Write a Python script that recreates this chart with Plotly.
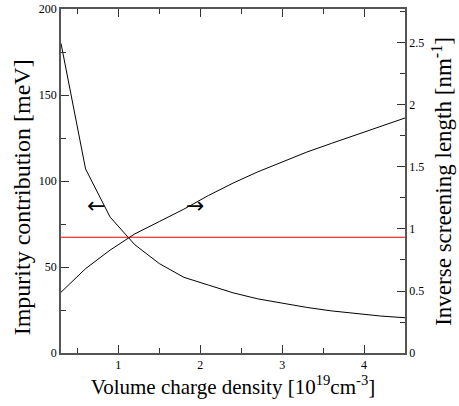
import plotly.graph_objects as go

# Data
density = [0.3, 0.6, 0.9, 1.2, 1.5, 1.8, 2.1, 2.4, 2.7, 3.0, 3.3, 3.6, 3.9, 4.2, 4.5]
impurity_mev = [180, 107, 79, 63, 52, 44, 39.5, 35, 31.5, 29, 26.5, 24.5, 23, 21.5, 20.5]
inverse_screening = [0.49, 0.68, 0.83, 0.96, 1.06, 1.16, 1.27, 1.37, 1.46, 1.54, 1.62, 1.69, 1.76, 1.83, 1.895]
ref_x = [0.3, 4.5]
ref_level = [67.3, 67.3]

FONT = "Liberation Serif"

fig = go.Figure()
fig.add_trace(go.Scatter(x=density, y=impurity_mev, mode="lines",
                         line=dict(color="black", width=1), showlegend=False))
fig.add_trace(go.Scatter(x=ref_x, y=ref_level, mode="lines",
                         line=dict(color="#ff0000", width=1.2), showlegend=False))
fig.add_trace(go.Scatter(x=density, y=inverse_screening, mode="lines", yaxis="y2",
                         line=dict(color="black", width=1), showlegend=False))

fig.add_annotation(x=0.73, y=86, text="←", showarrow=False, xref="x", yref="y",
                   font=dict(family="DejaVu Sans", size=22, color="black"))
fig.add_annotation(x=1.93, y=86, text="→", showarrow=False, xref="x", yref="y",
                   font=dict(family="DejaVu Sans", size=22, color="black"))
# axis titles placed as in the reference
fig.add_annotation(text="Impurity contribution [meV]", xref="paper", yref="paper",
                   x=-0.113, y=0.453, xanchor="center", yanchor="middle",
                   textangle=-90, showarrow=False,
                   font=dict(family=FONT, size=24, color="black"))
fig.add_annotation(text="Inverse screening length [nm<sup>-1</sup>]", xref="paper", yref="paper",
                   x=1.107, y=0.5, xanchor="center", yanchor="middle",
                   textangle=-90, showarrow=False,
                   font=dict(family=FONT, size=23, color="black"))

axis_common = dict(showgrid=False, zeroline=False, linecolor="#555", linewidth=1.5,
                   ticks="inside", tickcolor="#333", ticklen=8, tickwidth=1,
                   automargin=False,
                   tickfont=dict(family=FONT, size=12, color="black"))

fig.update_layout(
    width=459, height=406,
    margin=dict(l=61, r=54, t=9, b=53),
    paper_bgcolor="white", plot_bgcolor="white",
    font=dict(family=FONT, color="black"),
    xaxis=dict(range=[0.3, 4.5], dtick=1, tick0=0, mirror="ticks", showline=True,
               minor=dict(ticks="inside", dtick=0.5, tick0=0, ticklen=5, tickcolor="#333"),
               title=dict(text="Volume charge density [10<sup>19</sup>cm<sup>-3</sup>]",
                          font=dict(family=FONT, size=21), standoff=4),
               **axis_common),
    yaxis=dict(range=[0, 200], dtick=50, showline=True,
               minor=dict(ticks="inside", dtick=25, ticklen=5, tickcolor="#333"),
               **axis_common),
    yaxis2=dict(range=[0, 2.774], dtick=0.5, overlaying="y", side="right", showline=True,
                minor=dict(ticks="inside", dtick=0.25, ticklen=5, tickcolor="#333"),
                **axis_common),
)

fig.write_html("out.html", config={"displayModeBar": False},
               post_script="document.body.style.margin='0px';")
